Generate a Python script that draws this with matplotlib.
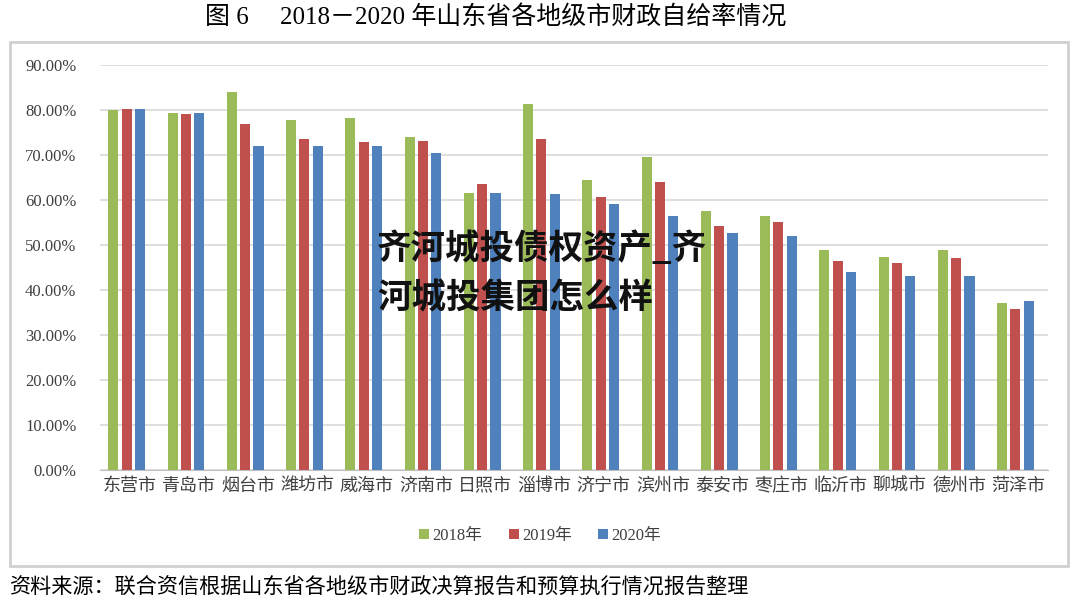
import matplotlib
matplotlib.use("Agg")
import matplotlib.pyplot as plt
import numpy as np
from matplotlib.patches import Rectangle

plt.rcParams['font.family'] = ['Liberation Serif', 'Noto Sans CJK SC']

cities = ['东营市', '青岛市', '烟台市', '潍坊市', '威海市', '济南市', '日照市', '淄博市',
          '济宁市', '滨州市', '泰安市', '枣庄市', '临沂市', '聊城市', '德州市', '菏泽市']
y2018 = [80.0, 79.3, 84.1, 77.8, 78.2, 73.9, 61.6, 81.3, 64.5, 69.6, 57.6, 56.4, 48.8, 47.4, 48.8, 37.1]
y2019 = [80.3, 79.0, 76.9, 73.5, 72.9, 73.0, 63.6, 73.6, 60.7, 64.1, 54.3, 55.1, 46.4, 45.9, 47.1, 35.8]
y2020 = [80.3, 79.3, 72.1, 72.1, 72.1, 70.4, 61.6, 61.3, 59.1, 56.4, 52.7, 52.0, 44.1, 43.2, 43.2, 37.6]
years = ['2018年', '2019年', '2020年']
colors = ['#9BBB59', '#C0504D', '#4F81BD']

fig = plt.figure(figsize=(10.8, 6.05), dpi=100)
ax = fig.add_axes([0.0926, 0.2231, 0.8778, 0.6695])

x = np.arange(len(cities))
w = 0.17
step = 0.225
for i, (vals, lab, c) in enumerate(zip([y2018, y2019, y2020], years, colors)):
    ax.bar(x + (i - 1) * step - 0.05, np.array(vals) / 100, w, color=c, label=lab, zorder=3)

ax.set_xlim(-0.5, len(cities) - 0.5)
ax.set_ylim(0, 0.9)
ax.set_yticks(np.arange(0, 0.91, 0.1))
ax.set_yticklabels(['%.2f%%' % (v * 100) for v in np.arange(0, 0.91, 0.1)], fontsize=12)
ax.set_xticks(x)
ax.set_xticklabels(cities, fontsize=13, family=['Noto Sans CJK SC'])
ax.grid(axis='y', color='#D9D9D9', linewidth=1.2, zorder=0)
for s in ['left', 'right', 'top']:
    ax.spines[s].set_visible(False)
ax.spines['bottom'].set_color('#BFBFBF')
ax.tick_params(axis='both', length=0, colors='#404040')
ax.tick_params(axis='x', pad=5)
ax.tick_params(axis='y', pad=17)

leg = fig.legend(loc='center', bbox_to_anchor=(0.5, 0.114), ncol=3, frameon=False,
                 fontsize=12, handlelength=0.6, handleheight=0.6, handletextpad=0.2,
                 columnspacing=1.6)
for t in leg.get_texts():
    t.set_color('#404040')

fig.patches.append(Rectangle((10 / 1080, 1 - 566 / 605), 1058 / 1080, 524 / 605,
                             transform=fig.transFigure, fill=False,
                             edgecolor='#D0D0D0', linewidth=2))

fig.text(496 / 1080, 1 - 18 / 605, '图 6     2018－2020 年山东省各地级市财政自给率情况',
         ha='center', va='center', fontsize=18)
fig.text(10 / 1080, 1 - 587 / 605, '资料来源：联合资信根据山东省各地级市财政决算报告和预算执行情况报告整理',
         ha='left', va='center', fontsize=15.2, family=['Noto Sans CJK SC'])

fig.text(377 / 1080, 1 - 248 / 605, '齐河城投债权资产_齐', ha='left', va='center',
         fontsize=24.8, fontweight='heavy', family=['Noto Sans CJK SC'], color='#111111')
fig.text(377 / 1080, 1 - 298 / 605, '河城投集团怎么样', ha='left', va='center',
         fontsize=24.8, fontweight='heavy', family=['Noto Sans CJK SC'], color='#111111')

fig.savefig('out.png', dpi=100)
